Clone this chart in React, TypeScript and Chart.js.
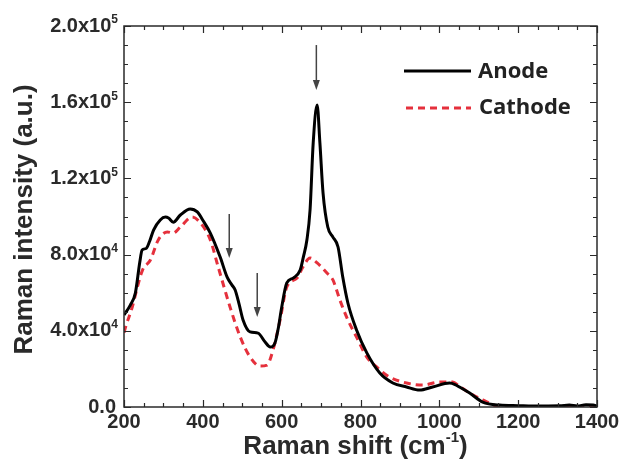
import React, { useEffect, useRef } from 'react';
import { Chart, registerables } from 'chart.js';

Chart.register(...registerables);

// ---- data ----
const anodeShift = [200, 216, 229, 240, 246, 256, 265, 275, 292, 305, 313, 325, 343, 368, 386, 400, 419, 444, 462, 474, 482, 492, 502, 520, 540, 558, 571, 583, 592, 599, 613, 630, 647, 655, 664, 672, 680, 690, 697, 705, 717, 730, 743, 755, 768, 790, 816, 849, 882, 917, 950, 983, 1026, 1040, 1051, 1077, 1110, 1153, 1200, 1236, 1305, 1330, 1350, 1372, 1390, 1400];
const anodeIntensity = [48300, 53500, 60000, 76000, 82400, 83200, 87000, 92900, 98200, 99700, 99200, 97000, 100800, 104000, 102400, 98000, 91300, 78700, 68000, 64000, 61400, 54000, 45700, 39400, 38800, 34100, 31500, 33600, 42000, 51000, 65100, 67800, 71900, 78700, 87700, 103400, 138600, 158500, 138600, 112300, 94500, 89200, 84000, 68200, 54600, 40400, 28400, 17800, 12600, 10500, 8900, 10500, 12600, 11800, 10500, 7300, 2600, 1000, 700, 500, 600, 1000, 500, 1200, 1000, 500];

const cathodeShift = [200, 204, 221, 234, 247, 267, 287, 310, 325, 343, 373, 394, 419, 439, 469, 495, 520, 545, 563, 578, 596, 613, 639, 654, 672, 690, 715, 730, 748, 768, 790, 816, 841, 874, 917, 958, 1001, 1034, 1050, 1077, 1110, 1153, 1200, 1300, 1400];
const cathodeIntensity = [39000, 42000, 52500, 63000, 71900, 77200, 87700, 91900, 91300, 94500, 99700, 96600, 87700, 73500, 52500, 36700, 26200, 21500, 22000, 29900, 45700, 63000, 67700, 73500, 78200, 75600, 70300, 66700, 56000, 45700, 36700, 26200, 21000, 15700, 12600, 11500, 13100, 13100, 11000, 7300, 3700, 300, 100, 100, 100];

const seriesLabels = ['Anode', 'Cathode'];

const xTickValues = [200, 400, 600, 800, 1000, 1200, 1400];
const yTickValues = [0, 40000, 80000, 120000, 160000, 200000];
const yTickMantissas = ['0.0', '4.0', '8.0', '1.2', '1.6', '2.0'];
const yTickExponents = ['', '4', '4', '5', '5', '5'];

const arrowShift = [688, 467, 538];
const arrowFrom = [190000, 101300, 70300];
const arrowTo = [166400, 78200, 47200];

const xTitle = 'Raman shift (cm';
const xTitleSup = '-1';
const yTitle = 'Raman intensity (a.u.)';

const AXIS_COLOR = '#2a2a2a';
const RED = '#e5303c';
const ARIAL = '"Liberation Sans", Arial, sans-serif';

const decorPlugin = {
  id: 'decor',
  afterDatasetsDraw(chart: any) {
    const { ctx, chartArea, scales } = chart;
    const xs = scales.x;
    const ys = scales.y;
    const { left, right, top, bottom } = chartArea;
    ctx.save();

    // frame
    ctx.strokeStyle = AXIS_COLOR;
    ctx.lineWidth = 1.5;
    ctx.strokeRect(left, top, right - left, bottom - top);

    // ticks
    ctx.lineWidth = 1.2;
    ctx.beginPath();
    for (let v = 200; v <= 1400; v += 50) {
      const px = Math.round(xs.getPixelForValue(v)) + 0.5;
      const len = v % 200 === 0 ? 7 : 4;
      ctx.moveTo(px, bottom);
      ctx.lineTo(px, bottom - len);
      ctx.moveTo(px, top);
      ctx.lineTo(px, top + len);
    }
    for (let v = 0; v <= 200000; v += 10000) {
      const py = Math.round(ys.getPixelForValue(v)) + 0.5;
      const len = v % 40000 === 0 ? 7 : 4;
      ctx.moveTo(left, py);
      ctx.lineTo(left + len, py);
      ctx.moveTo(right, py);
      ctx.lineTo(right - len, py);
    }
    ctx.stroke();

    // x tick labels
    ctx.fillStyle = AXIS_COLOR;
    ctx.font = `bold 20px ${ARIAL}`;
    ctx.textAlign = 'center';
    ctx.textBaseline = 'middle';
    xTickValues.forEach((v) => {
      ctx.fillText(String(v), xs.getPixelForValue(v), bottom + 15);
    });

    // y tick labels with superscript exponents
    yTickValues.forEach((v, i) => {
      const py = ys.getPixelForValue(v);
      const exp = yTickExponents[i];
      const rightEdge = left - 6;
      if (exp) {
        ctx.font = `bold 12px ${ARIAL}`;
        const ew = ctx.measureText(exp).width;
        ctx.textAlign = 'left';
        ctx.fillText(exp, rightEdge - ew, py - 6);
        ctx.font = `bold 20px ${ARIAL}`;
        ctx.textAlign = 'right';
        ctx.fillText(yTickMantissas[i] + 'x10', rightEdge - ew, py);
      } else {
        ctx.font = `bold 20px ${ARIAL}`;
        ctx.textAlign = 'right';
        ctx.fillText(yTickMantissas[i], rightEdge - 2, py);
      }
    });

    // x title
    ctx.font = `bold 26px ${ARIAL}`;
    const w1 = ctx.measureText(xTitle).width;
    const w3 = ctx.measureText(')').width;
    ctx.font = `bold 15px ${ARIAL}`;
    const w2 = ctx.measureText(xTitleSup).width;
    const total = w1 + w2 + w3;
    const cx = (left + right) / 2 - 5;
    let sx = cx - total / 2;
    const ty = 447;
    ctx.textAlign = 'left';
    ctx.font = `bold 26px ${ARIAL}`;
    ctx.fillText(xTitle, sx, ty);
    sx += w1;
    ctx.font = `bold 15px ${ARIAL}`;
    ctx.fillText(xTitleSup, sx, ty - 9);
    sx += w2;
    ctx.font = `bold 26px ${ARIAL}`;
    ctx.fillText(')', sx, ty);

    // y title
    ctx.save();
    ctx.translate(25, (top + bottom) / 2 + 3);
    ctx.rotate(-Math.PI / 2);
    ctx.textAlign = 'center';
    ctx.textBaseline = 'middle';
    ctx.font = `bold 26px ${ARIAL}`;
    ctx.fillText(yTitle, 0, 0);
    ctx.restore();

    // legend
    ctx.lineWidth = 3;
    ctx.strokeStyle = '#000';
    ctx.setLineDash([]);
    ctx.beginPath();
    ctx.moveTo(404, 71);
    ctx.lineTo(471, 71);
    ctx.stroke();
    ctx.strokeStyle = RED;
    ctx.setLineDash([7, 5]);
    ctx.beginPath();
    ctx.moveTo(406, 108);
    ctx.lineTo(471, 108);
    ctx.stroke();
    ctx.setLineDash([]);
    ctx.fillStyle = '#222';
    ctx.font = `bold 22px "Open Sans", sans-serif`;
    ctx.textAlign = 'left';
    ctx.textBaseline = 'middle';
    ctx.fillText(seriesLabels[0], 478, 72);
    ctx.fillText(seriesLabels[1], 479, 108);

    // arrows
    ctx.strokeStyle = '#444';
    ctx.fillStyle = '#444';
    ctx.lineWidth = 1.5;
    arrowShift.forEach((xv, i) => {
      const px = xs.getPixelForValue(xv);
      const y0 = ys.getPixelForValue(arrowFrom[i]);
      const y1 = ys.getPixelForValue(arrowTo[i]);
      ctx.beginPath();
      ctx.moveTo(px, y0);
      ctx.lineTo(px, y1 - 8);
      ctx.stroke();
      ctx.beginPath();
      ctx.moveTo(px - 3.5, y1 - 10);
      ctx.lineTo(px + 3.5, y1 - 10);
      ctx.lineTo(px, y1);
      ctx.closePath();
      ctx.fill();
    });

    ctx.restore();
  },
};

export default function App() {
  const canvasRef = useRef<HTMLCanvasElement | null>(null);

  useEffect(() => {
    document.body.style.margin = '0';
    const canvas = canvasRef.current;
    if (!canvas) return;
    const chart = new Chart(canvas, {
      type: 'line',
      data: {
        datasets: [
          {
            label: seriesLabels[0],
            data: anodeShift.map((x, i) => ({ x, y: anodeIntensity[i] })),
            borderColor: '#000',
            borderWidth: 3,
            pointRadius: 0,
            cubicInterpolationMode: 'monotone',
            fill: false,
          },
          {
            label: seriesLabels[1],
            data: cathodeShift.map((x, i) => ({ x, y: cathodeIntensity[i] })),
            borderColor: RED,
            borderWidth: 3,
            borderDash: [7, 5],
            pointRadius: 0,
            cubicInterpolationMode: 'monotone',
            fill: false,
          },
        ],
      },
      options: {
        animation: false,
        responsive: true,
        maintainAspectRatio: false,
        layout: { padding: { top: 26, right: 23, left: 0, bottom: 0 } },
        plugins: { legend: { display: false }, tooltip: { enabled: false } },
        scales: {
          x: {
            type: 'linear',
            min: 200,
            max: 1400,
            grid: { display: false },
            border: { display: false },
            ticks: { display: false },
            afterFit: (s: any) => { s.height = 61; },
          },
          y: {
            type: 'linear',
            min: 0,
            max: 200000,
            grid: { display: false },
            border: { display: false },
            ticks: { display: false },
            afterFit: (s: any) => { s.width = 124; },
          },
        },
      } as any,
      plugins: [decorPlugin],
    });
    return () => chart.destroy();
  }, []);

  return (
    <div style={{ width: 620, height: 468, position: 'relative', background: '#fff' }}>
      <canvas ref={canvasRef} />
    </div>
  );
}
